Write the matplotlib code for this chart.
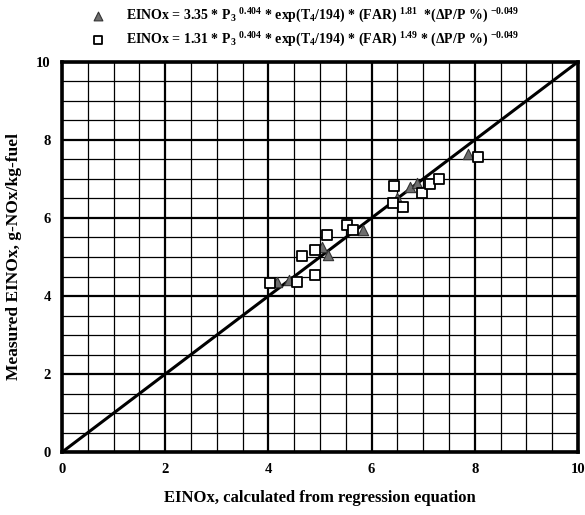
# -*- coding: utf-8 -*-
"""Measured vs regression-calculated EINOx (parity plot)."""
import matplotlib
matplotlib.use("Agg")
import matplotlib.pyplot as plt
from matplotlib.ticker import MultipleLocator

# triangles: EINOx = 3.35 * ... correlation
tri_calc = [4.17, 4.40, 5.04, 5.16, 5.83, 6.50, 6.74, 6.88, 7.87]
tri_meas = [4.36, 4.40, 5.26, 5.05, 5.69, 6.50, 6.80, 6.90, 7.64]

# squares: EINOx = 1.31 * ... correlation
sq_calc = [4.03, 4.55, 4.65, 4.90, 4.90, 5.13, 5.52, 5.64, 6.41, 6.43,
           6.61, 6.98, 7.13, 7.31, 8.06]
sq_meas = [4.33, 4.36, 5.03, 5.18, 4.54, 5.56, 5.82, 5.69, 6.38, 6.82,
           6.28, 6.64, 6.87, 7.00, 7.56]

parity = [0, 10]

LABEL_TRI = (r"EINOx = 3.35 * P$_3$ $^{0.404}$ * exp(T$_4$/194) * (FAR) $^{1.81}$"
             r"  *($\Delta$P/P %) $^{-0.049}$")
LABEL_SQ = (r"EINOx = 1.31 * P$_3$ $^{0.404}$ * exp(T$_4$/194) * (FAR) $^{1.49}$"
            r" * ($\Delta$P/P %) $^{-0.049}$")

plt.rcParams["font.family"] = ["Liberation Serif", "DejaVu Serif"]
plt.rcParams["font.weight"] = "bold"
plt.rcParams["mathtext.fontset"] = "custom"
plt.rcParams["mathtext.rm"] = "Liberation Serif:bold"
plt.rcParams["mathtext.it"] = "Liberation Serif:bold"
plt.rcParams["mathtext.bf"] = "Liberation Serif:bold"

fig = plt.figure(figsize=(5.85, 5.15), dpi=100)
ax = fig.add_axes([0.106, 0.122, 0.882, 0.758])

ax.set_xlim(0, 10)
ax.set_ylim(0, 10)
ax.xaxis.set_major_locator(MultipleLocator(2))
ax.yaxis.set_major_locator(MultipleLocator(2))
ax.xaxis.set_minor_locator(MultipleLocator(0.5))
ax.yaxis.set_minor_locator(MultipleLocator(0.5))
ax.grid(which="minor", color="black", linewidth=0.9)
ax.grid(which="major", color="black", linewidth=1.6)
ax.set_axisbelow(True)
ax.tick_params(which="both", length=0, labelsize=10.5, pad=8)
for s in ax.spines.values():
    s.set_linewidth(2.6)

ax.plot(parity, parity, color="black", linewidth=2.2, zorder=3)
ax.scatter(tri_calc, tri_meas, marker="^", s=55, facecolor="#6e6e6e",
           edgecolor="#333333", linewidth=0.8, zorder=4, label=LABEL_TRI)
ax.scatter(sq_calc, sq_meas, marker="s", s=55, facecolor="white",
           edgecolor="black", linewidth=1.3, zorder=5, label=LABEL_SQ)

ax.set_xlabel("EINOx, calculated from regression equation", fontsize=12,
              fontweight="bold", labelpad=10)
ax.set_ylabel("Measured EINOx, g-NOx/kg-fuel", fontsize=12.5,
              fontweight="bold", labelpad=10)

ax.legend(loc="lower left", bbox_to_anchor=(0.03, 1.015), frameon=False,
          fontsize=10, handletextpad=1.0, labelspacing=0.45, borderaxespad=0.1,
          markerscale=0.85)

fig.savefig("out.png", dpi=100)
